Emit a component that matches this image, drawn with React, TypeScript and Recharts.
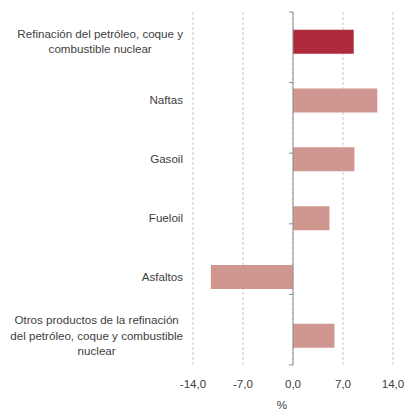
import React from 'react';
import { BarChart, Bar, XAxis, YAxis, CartesianGrid, ReferenceLine, Cell, Label } from 'recharts';

const categories: string[] = [
  'Refinación del petróleo, coque y combustible nuclear',
  'Naftas',
  'Gasoil',
  'Fueloil',
  'Asfaltos',
  'Otros productos de la refinación del petróleo, coque y combustible nuclear',
];
const labelLines: string[][] = [
  ['Refinación del petróleo, coque y', 'combustible nuclear'],
  ['Naftas'],
  ['Gasoil'],
  ['Fueloil'],
  ['Asfaltos'],
  ['Otros productos de la refinación', 'del petróleo, coque y combustible', 'nuclear'],
];
const values: number[] = [8.5, 11.8, 8.6, 5.1, -11.5, 5.8];
const barColors: string[] = ['#AE2A3C', '#D09790', '#D09790', '#D09790', '#D09790', '#D09790'];
const xTicks: number[] = [-14, -7, 0, 7, 14];

const data = categories.map((c, i) => ({ name: c, value: values[i] }));
const boundaries = Array.from({ length: categories.length + 1 }, (_, i) => i);

const FONT = "'Liberation Sans', Arial, sans-serif";
const FS = 11.6;
let ctx: CanvasRenderingContext2D | null = null;
function measure(t: string): number {
  if (!ctx) {
    const c = document.createElement('canvas');
    ctx = c.getContext('2d');
  }
  if (!ctx) return t.length * 5.5;
  ctx.font = `${FS}px ${FONT}`;
  return ctx.measureText(t).width;
}

const YTick = (props: any) => {
  const { x, y, payload } = props;
  const idx = categories.indexOf(payload.value);
  const lines = labelLines[idx] || [payload.value];
  const lh = 15.7;
  const maxW = Math.max(...lines.map(measure));
  const cx = x - maxW / 2;
  const startY = y - ((lines.length - 1) * lh) / 2;
  return (
    <g>
      {lines.map((l, i) => (
        <text key={i} x={cx} y={startY + i * lh} dy="0.35em" textAnchor="middle" fontSize={FS} fontFamily={FONT} fill="#404040">
          {l}
        </text>
      ))}
    </g>
  );
};

const fmt = (v: number) => v.toFixed(1).replace('.', ',');

export default function App() {
  return (
    <div style={{ position: 'fixed', left: 0, top: 0, background: '#fff' }}>
      <BarChart
        width={404}
        height={412}
        data={data}
        layout="vertical"
        margin={{ top: 12, right: 11, bottom: 0, left: 0 }}
        barCategoryGap="30%"
      >
        <CartesianGrid horizontal={false} stroke="#C8C8C8" strokeDasharray="3 2" />
        <XAxis
          type="number"
          domain={[-14, 14]}
          ticks={xTicks}
          tickFormatter={fmt}
          axisLine={false}
          tickLine={false}
          tickMargin={9}
          height={47}
          tick={{ fontSize: FS, fontFamily: FONT, fill: '#404040' }}
        >
          <Label value="%" position="insideBottom" offset={3} dx={-11} style={{ fontSize: FS, fontFamily: FONT, fill: '#404040' }} />
        </XAxis>
        <YAxis
          type="category"
          dataKey="name"
          width={193}
          axisLine={false}
          tickLine={false}
          tickSize={0}
          tickMargin={10}
          tick={<YTick />}
          interval={0}
        />
        <YAxis yAxisId="pos" type="number" domain={[0, categories.length]} hide />
        <Bar dataKey="value" isAnimationActive={false}>
          {data.map((d, i) => (
            <Cell key={d.name} fill={barColors[i]} />
          ))}
        </Bar>
        <ReferenceLine x={0} stroke="#8C8C8C" strokeWidth={1} />
        {boundaries.map((b) => (
          <ReferenceLine
            key={b}
            yAxisId="pos"
            segment={[{ x: -0.56, y: b }, { x: 0, y: b }]}
            stroke="#8C8C8C"
            strokeWidth={1}
          />
        ))}
      </BarChart>
    </div>
  );
}
